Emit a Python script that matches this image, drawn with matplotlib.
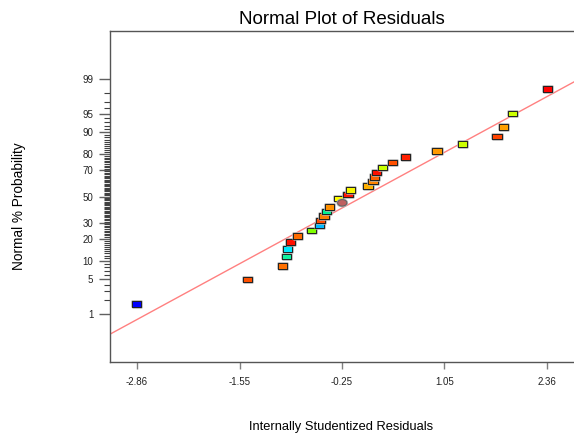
import numpy as np
import matplotlib
matplotlib.use('Agg')
import matplotlib.pyplot as plt
import matplotlib.patheffects as pe
from statistics import NormalDist

plt.rcParams['font.family'] = ['Liberation Sans', 'DejaVu Sans']

# residuals in rank order (internally studentized)
residuals = [-2.86, -1.454, -1.002, -0.955, -0.942, -0.900, -0.815, -0.638, -0.536, -0.520,
             -0.478, -0.444, -0.410, -0.247, -0.296, -0.174, -0.144, 0.080, 0.143, 0.164,
             0.186, 0.266, 0.396, 0.557, 0.959, 1.284, 1.720, 1.799, 1.917, 2.36]
colors = ['#0000ff', '#ff5000', '#ff7000', '#10f0a0', '#00e8ff', '#ff1000', '#ff6a00', '#80ff00',
          '#00b8ff', '#ff4a00', '#ff8000', '#00f090', '#ff9000', '#c06060', '#ffff00', '#ff1500',
          '#f8f800', '#ffb000', '#ff8400', '#ff6000', '#ff1000', '#c8ff00', '#ff5000', '#ff2000',
          '#ff9900', '#ccff00', '#ff4400', '#ffa000', '#ccff00', '#ff0000']
circle_rank = 13  # index of the point drawn as a circle

x_ticks = [-2.86, -1.55, -0.25, 1.05, 2.36]
y_ticks = [1, 5, 10, 20, 30, 50, 70, 80, 90, 95, 99]
fit_mean, fit_sd = 0.02, 1.18

nd = NormalDist()
n = len(residuals)
prob = [100 * (i + 0.5) / n for i in range(n)]


def fwd(p):
    p = np.clip(np.asarray(p, dtype=float) / 100, 1e-9, 1 - 1e-9)
    return np.vectorize(nd.inv_cdf)(p)


def inv(z):
    return np.vectorize(nd.cdf)(np.asarray(z, dtype=float)) * 100


fig = plt.figure(figsize=(5.74, 4.34), dpi=100)
ax = fig.add_axes([110 / 574, 72 / 434, 464 / 574, 331 / 434])
ax.set_yscale('function', functions=(fwd, inv))

xlim = (-3.20, 2.70)
ax.set_xlim(xlim)
ax.set_ylim(inv(-3.28), inv(3.28))

# fitted normal line
lx = np.linspace(xlim[0], xlim[1], 50)
ax.plot(lx, inv((lx - fit_mean) / fit_sd), color='#ff8080', lw=1.0, zorder=2)

rect = [(-1, -0.62), (1, -0.62), (1, 0.62), (-1, 0.62), (-1, -0.62)]
t = np.linspace(0, 2 * np.pi, 40)
ell = list(zip(np.cos(t), 0.7 * np.sin(t)))
halo = [pe.withStroke(linewidth=1.8, foreground='#b0b0b0')]

idx = [i for i in range(n) if i != circle_rank]
sc = ax.scatter([residuals[i] for i in idx], [prob[i] for i in idx], marker=rect, s=44,
                c=[colors[i] for i in idx], edgecolors='#202020', linewidths=0.7, zorder=3)
sc.set_path_effects(halo)
sc2 = ax.scatter([residuals[circle_rank]], [prob[circle_rank]], marker=ell, s=44,
                 c=[colors[circle_rank]], edgecolors='#606060', linewidths=0.7, zorder=3)
sc2.set_path_effects(halo)

ax.set_xticks(x_ticks)
ax.set_xticklabels(['%.2f' % v for v in x_ticks])
ax.set_yticks(y_ticks)
ax.set_yticklabels([str(v) for v in y_ticks])
ax.set_yticks([v for v in range(1, 100) if v not in y_ticks], minor=True)
ax.tick_params(axis='x', length=5, width=1, color='#808080', labelsize=7, pad=6, labelcolor='#222222')
ax.tick_params(axis='y', which='major', length=8, width=1, color='#606060', labelsize=7, pad=4,
               labelcolor='#222222')
ax.tick_params(axis='y', which='minor', length=4, width=0.8, color='#404040')

for s in ['left', 'top', 'bottom']:
    ax.spines[s].set_color('#555555')
    ax.spines[s].set_linewidth(1)
ax.spines['right'].set_visible(False)

ax.set_title('Normal Plot of Residuals', fontsize=13.5, pad=5)
fig.text(341 / 574, 1 - 427 / 434, 'Internally Studentized Residuals', fontsize=9.3,
         ha='center', va='center')
fig.text(19 / 574, 1 - 206 / 434, 'Normal % Probability', fontsize=9.8, rotation=90,
         ha='center', va='center')

fig.savefig('out.png', dpi=100)
